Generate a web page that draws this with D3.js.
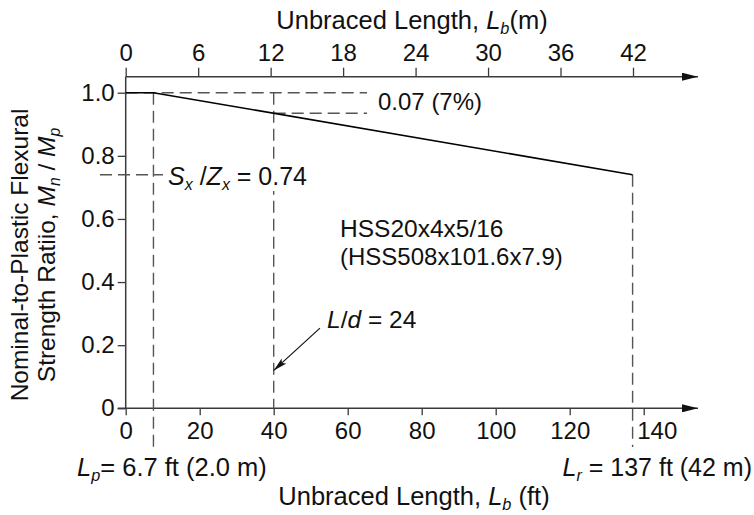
<!DOCTYPE html>
<html>
<head>
<meta charset="utf-8">
<script src="https://cdn.jsdelivr.net/npm/d3@7"></script>
<style>
  html, body { margin: 0; padding: 0; background: #fff; }
  svg { display: block; font-family: "Liberation Sans", Arial, Helvetica, sans-serif; }
</style>
</head>
<body>
<svg id="chart" width="754" height="515"></svg>
<script>
// ---------------- data ----------------
const ftTicks = [0, 20, 40, 60, 80, 100, 120, 140];
const mTicks = [0, 6, 12, 18, 24, 30, 36, 42];
const yTicks = [0, 0.2, 0.4, 0.6, 0.8, 1.0];
const yTickLabels = ["0", "0.2", "0.4", "0.6", "0.8", "1.0"];
const curveLb = [0, 7.5, 137];          // ft
const curveRatio = [1.0, 1.0, 0.74];    // Mn/Mp
const lpFt = 7.5, lrFt = 137, ldFt = 40;
const ratioAtLd = 0.935;
const sxzx = 0.74;
const ldArrowTip = 0.12, ldArrowTail = [52.5, 0.254];

// ---------------- scales ----------------
const svg = d3.select("#chart");
const xFt = d3.scaleLinear().domain([0, 140]).range([125.7, 643.7]);
const xM = d3.scaleLinear().domain([0, 42]).range([125.7, 633]);
const y = d3.scaleLinear().domain([0, 1]).range([408.3, 92.7]);
const axisColor = "#3a3a3a";
const dashColor = "#555";
const FS = 24;

const defs = svg.append("defs");
defs.append("marker").attr("id", "axArrow").attr("viewBox", "0 0 16 8")
  .attr("refX", 16).attr("refY", 4).attr("markerWidth", 16).attr("markerHeight", 8)
  .attr("markerUnits", "userSpaceOnUse").attr("orient", "auto")
  .append("path").attr("d", "M0,0 L16,4 L0,8 Z").attr("fill", "#111");
defs.append("marker").attr("id", "ldArrow").attr("viewBox", "0 0 14 8")
  .attr("refX", 14).attr("refY", 4).attr("markerWidth", 14).attr("markerHeight", 8)
  .attr("markerUnits", "userSpaceOnUse").attr("orient", "auto")
  .append("path").attr("d", "M0,0.5 L14,4 L0,7.5 L3,4 Z").attr("fill", "#111");

// ---------------- axes ----------------
const xEnd = 698;
// bottom axis
const gB = svg.append("g").attr("transform", `translate(0,${y(0)})`)
  .call(d3.axisBottom(xFt).tickValues(ftTicks).tickSize(7).tickPadding(7).tickFormat(d3.format("d")));
gB.select(".domain").remove();
gB.selectAll(".tick text").filter(d => d === 140).attr("dx", 13);
svg.append("line").attr("x1", xFt(0) - 8).attr("x2", xEnd).attr("y1", y(0)).attr("y2", y(0))
  .attr("stroke", axisColor).attr("stroke-width", 1.5).attr("marker-end", "url(#axArrow)");

// top axis
const yTop = 76.7;
const gT = svg.append("g").attr("transform", `translate(0,${yTop})`)
  .call(d3.axisTop(xM).tickValues(mTicks).tickSize(9).tickPadding(7).tickFormat(d3.format("d")));
gT.select(".domain").remove();
svg.append("line").attr("x1", xM(0)).attr("x2", xEnd).attr("y1", yTop).attr("y2", yTop)
  .attr("stroke", axisColor).attr("stroke-width", 1.5).attr("marker-end", "url(#axArrow)");

// left axis
const gL = svg.append("g").attr("transform", `translate(${xFt(0)},0)`)
  .call(d3.axisLeft(y).tickValues(yTicks).tickSize(8).tickPadding(3)
    .tickFormat((d, i) => yTickLabels[i]));
gL.select(".domain").remove();
svg.append("line").attr("x1", xFt(0)).attr("x2", xFt(0)).attr("y1", yTop).attr("y2", y(0))
  .attr("stroke", axisColor).attr("stroke-width", 1.5);

[gB, gT, gL].forEach(g => {
  g.selectAll(".tick line").attr("stroke", axisColor).attr("stroke-width", 1.3);
  g.selectAll(".tick text").attr("font-size", FS).attr("fill", "#111")
    .attr("font-family", "'Liberation Sans', Arial, sans-serif");
});

// ---------------- dashed guides ----------------
const dash = "12,6";
function dline(x1, y1, x2, y2) {
  svg.append("line").attr("x1", x1).attr("y1", y1).attr("x2", x2).attr("y2", y2)
    .attr("stroke", dashColor).attr("stroke-width", 1.4).attr("stroke-dasharray", dash);
}
dline(xFt(0), y(1.0), 367, y(1.0));
dline(xFt(ldFt), y(ratioAtLd), 367, y(ratioAtLd));
dline(100, y(sxzx), 163, y(sxzx));
dline(xFt(lpFt), y(1.0), xFt(lpFt), 447);
dline(xFt(ldFt), y(1.0), xFt(ldFt), y(0));
dline(xFt(lrFt), y(sxzx), xFt(lrFt), 447);

// ---------------- curve ----------------
const pts = curveLb.map((d, i) => [d, curveRatio[i]]);
svg.append("path").datum(pts)
  .attr("d", d3.line().x(d => xFt(d[0])).y(d => y(d[1])))
  .attr("fill", "none").attr("stroke", "#000").attr("stroke-width", 1.6);

// L/d arrow
svg.append("line")
  .attr("x1", xFt(ldArrowTail[0])).attr("y1", y(ldArrowTail[1]))
  .attr("x2", xFt(ldFt)).attr("y2", y(ldArrowTip))
  .attr("stroke", "#111").attr("stroke-width", 1.2).attr("marker-end", "url(#ldArrow)");

// ---------------- text helpers ----------------
function rich(x, yy, parts, opts = {}) {
  const size = opts.size || FS;
  const t = svg.append("text").attr("x", x).attr("y", yy)
    .attr("font-size", size).attr("fill", "#111")
    .attr("text-anchor", opts.anchor || "start");
  if (opts.rotate) t.attr("transform", `rotate(-90,${x},${yy})`);
  parts.forEach(p => {
    const s = t.append("tspan").text(p.t);
    if (p.i) s.attr("font-style", "italic");
    if (p.sub) s.attr("font-size", size * 0.64).attr("dy", 5);
    if (p.up) s.attr("dy", -5);
  });
  if (opts.bg) {
    const b = t.node().getBBox();
    svg.insert("rect", () => t.node())
      .attr("x", b.x - 2).attr("y", b.y + 2).attr("width", b.width + 4).attr("height", b.height - 4)
      .attr("fill", "#fff");
  }
  return t;
}

// titles
rich(412, 29, [{t: "Unbraced Length, "}, {t: "L", i: 1}, {t: "b", i: 1, sub: 1}, {t: "(m)", up: 1}], {anchor: "middle", size: 25.5});
rich(414, 505, [{t: "Unbraced Length, "}, {t: "L", i: 1}, {t: "b", i: 1, sub: 1}, {t: " (ft)", up: 1}], {anchor: "middle", size: 25.5});
rich(28, 255, [{t: "Nominal-to-Plastic Flexural"}], {anchor: "middle", rotate: 1, size: 24.5});
rich(55, 255, [{t: "Strength Ratiio, "}, {t: "M", i: 1}, {t: "n", i: 1, sub: 1}, {t: " / ", up: 1}, {t: "M", i: 1}, {t: "p", i: 1, sub: 1}], {anchor: "middle", rotate: 1, size: 24.5});

// annotations
rich(77, 476, [{t: "L", i: 1}, {t: "p", i: 1, sub: 1}, {t: "= 6.7 ft (2.0 m)", up: 1}], {size: 25.5});
rich(752, 476, [{t: "L", i: 1}, {t: "r", i: 1, sub: 1}, {t: " = 137 ft (42 m)", up: 1}], {anchor: "end", size: 25});
rich(378, 110, [{t: "0.07 (7%)"}]);
rich(168, 185, [{t: "S", i: 1}, {t: "x", i: 1, sub: 1}, {t: " /", up: 1}, {t: "Z", i: 1}, {t: "x", i: 1, sub: 1}, {t: " = 0.74", up: 1}], {size: 25, bg: 1});
rich(340, 237, [{t: "HSS20x4x5/16"}], {size: 24.5});
rich(340, 265, [{t: "(HSS508x101.6x7.9)"}]);
rich(327, 328, [{t: "L", i: 1}, {t: "/"}, {t: "d", i: 1}, {t: " = 24"}], {size: 24.5});
</script>
</body>
</html>
